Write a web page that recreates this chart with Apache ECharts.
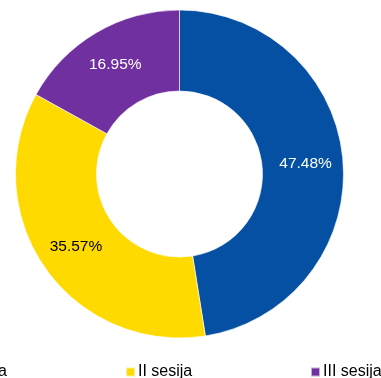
<!DOCTYPE html>
<html>
<head>
<meta charset="utf-8">
<script src="https://cdn.jsdelivr.net/npm/echarts@6/dist/echarts.min.js"></script>
<style>
  html, body { margin: 0; padding: 0; background: #fff; }
  #chart { width: 381px; height: 378px; }
</style>
</head>
<body>
<div id="chart"></div>
<script>
const categories = ['I sesija', 'II sesija', 'III sesija'];
const shares = [47.48, 35.57, 16.95];
const colors = ['#0550A2', '#FFDA00', '#7030A0'];
const labelColors = ['#ffffff', '#000000', '#ffffff'];

const chart = echarts.init(document.getElementById('chart'));

const legendLefts = [-61, 120, 305];
const legends = categories.map((name, i) => ({
  data: [name],
  left: legendLefts[i],
  top: 359,
  itemWidth: 9,
  itemHeight: 9,
  itemGap: 4,
  icon: 'rect',
  textStyle: { fontFamily: 'Liberation Sans, Arial', fontSize: 16, color: '#000', padding: [0, 0, 0, -2] }
}));

const option = {
  animation: false,
  color: colors,
  legend: legends,
  series: [{
    type: 'pie',
    center: [179.5, 174],
    radius: [83, 164],
    startAngle: 90,
    clockwise: true,
    itemStyle: { borderColor: 'rgba(255,255,255,0.6)', borderWidth: 1 },
    label: {
      position: 'inside',
      fontFamily: 'Liberation Sans, Arial',
      fontSize: 15.5,
      formatter: p => shares[p.dataIndex].toFixed(2) + '%'
    },
    labelLine: { show: false },
    data: categories.map((name, i) => ({
      name: name,
      value: shares[i],
      label: { color: labelColors[i] }
    }))
  }]
};

chart.setOption(option);
</script>
</body>
</html>
